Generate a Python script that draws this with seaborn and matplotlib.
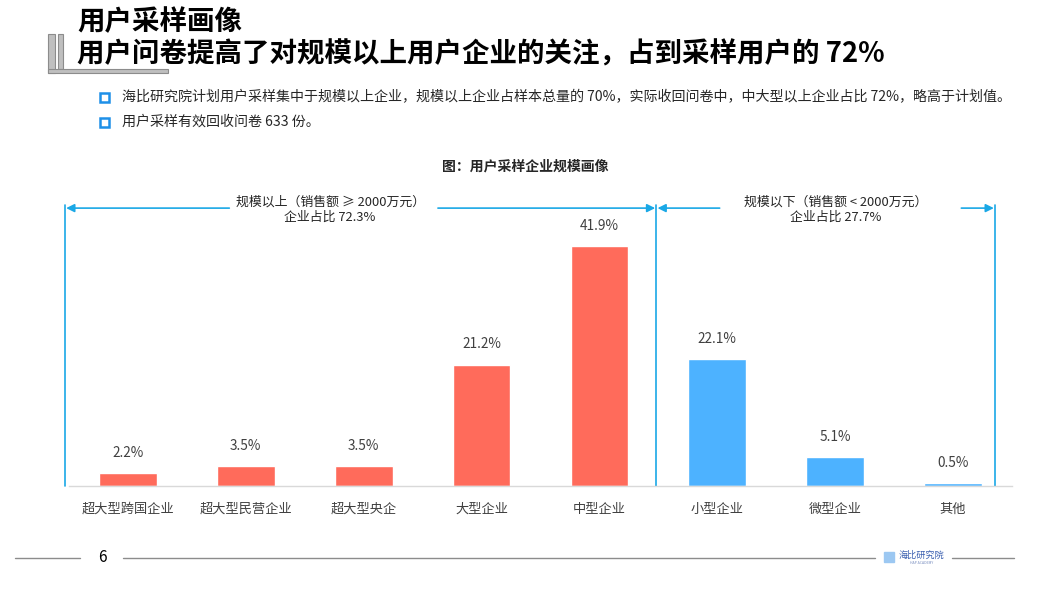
import matplotlib
matplotlib.use("Agg")
import matplotlib.pyplot as plt
import seaborn as sns
import pandas as pd
from matplotlib.lines import Line2D
from matplotlib.patches import Rectangle

sns.set_theme(style="white")
plt.rcParams['font.family'] = ['Noto Sans CJK SC', 'DejaVu Sans']

categories = ["超大型跨国企业", "超大型民营企业", "超大型央企", "大型企业", "中型企业", "小型企业", "微型企业", "其他"]
values = [2.2, 3.5, 3.5, 21.2, 41.9, 22.1, 5.1, 0.5]
groups = ["上", "上", "上", "上", "上", "下", "下", "下"]
group_labels = ["规模以上（销售额 ≥ 2000万元）\n企业占比 72.3%", "规模以下（销售额 < 2000万元）\n企业占比 27.7%"]

title1 = "用户采样画像"
title2 = "用户问卷提高了对规模以上用户企业的关注，占到采样用户的 72%"
bullets = ["海比研究院计划用户采样集中于规模以上企业，规模以上企业占样本总量的 70%，实际收回问卷中，中大型以上企业占比 72%，略高于计划值。",
           "用户采样有效回收问卷 633 份。"]
chart_title = "图：用户采样企业规模画像"
page_no = "6"

RED = "#FF6B5B"
BLUE = "#4DB2FF"
LINE_BLUE = "#1AA8E6"
TXT = "#404040"

df = pd.DataFrame({"cat": categories, "val": values, "grp": groups})

W, H = 1050, 590
fig = plt.figure(figsize=(W / 100, H / 100), dpi=100)
fig.patch.set_facecolor("white")

def px(x, y):
    return x / W, 1 - y / H

# axes placement
ax_l, ax_r, ax_t, ax_b = 69, 1012, 190, 486
ax = fig.add_axes([ax_l / W, 1 - ax_b / H, (ax_r - ax_l) / W, (ax_b - ax_t) / H])
sns.barplot(data=df, x="cat", y="val", hue="grp", palette={"上": RED, "下": BLUE},
            dodge=False, width=0.49, legend=False, ax=ax, saturation=1)
ymax = 51.66
ax.set_ylim(0, ymax)
ax.set_xlim(-0.5, len(categories) - 0.5)
for s in ["top", "right", "left"]:
    ax.spines[s].set_visible(False)
ax.spines["bottom"].set_color("#D9D9D9")
ax.spines["bottom"].set_linewidth(1.0)
ax.set_yticks([])
ax.set_xlabel("")
ax.set_ylabel("")
ax.tick_params(axis="x", length=0, pad=12, labelsize=9.5, labelcolor=TXT)

for i, v in enumerate(values):
    ax.text(i, v + 2.3, f"{v}%", ha="center", va="bottom", fontsize=9.8, color=TXT)

# bracket annotations
bounds = [-0.534, 4.483, 7.356]
y_arrow = 48.5
y_top = 49.1
for b in bounds:
    ax.plot([b, b], [0, y_top], color=LINE_BLUE, lw=1.2, clip_on=False)
gap = [(-0.534, 0.86, 2.63, 4.483), (4.483, 5.02, 7.07, 7.356)]
for (l, gl, gr, r) in gap:
    ax.annotate("", xy=(l + 0.01, y_arrow), xytext=(gl, y_arrow),
                arrowprops=dict(arrowstyle="-|>", color=LINE_BLUE, lw=1.2, mutation_scale=12, shrinkA=0, shrinkB=0),
                annotation_clip=False)
    ax.annotate("", xy=(r - 0.01, y_arrow), xytext=(gr, y_arrow),
                arrowprops=dict(arrowstyle="-|>", color=LINE_BLUE, lw=1.2, mutation_scale=12, shrinkA=0, shrinkB=0),
                annotation_clip=False)
ax.text((gap[0][1] + gap[0][2]) / 2 - 0.03, y_arrow - 0.25, group_labels[0], ha="center", va="center",
        fontsize=9.3, color="#262626", linespacing=1.2)
ax.text((gap[1][1] + gap[1][2]) / 2 - 0.04, y_arrow - 0.25, group_labels[1], ha="center", va="center",
        fontsize=9.3, color="#262626", linespacing=1.2)

# header
fig.text(*px(77, 22), title1, fontsize=19.8, fontweight="bold", color="black", va="center", ha="left")
fig.text(*px(77, 54), title2, fontsize=19.8, fontweight="bold", color="black", va="center", ha="left")
fig.add_artist(Rectangle(px(48, 73), 7 / W, 39 / H, facecolor="#BFBFBF", edgecolor="#8C8C8C", lw=0.8,
                         transform=fig.transFigure))
fig.add_artist(Rectangle(px(58, 69), 5 / W, 35 / H, facecolor="#BFBFBF", edgecolor="#8C8C8C", lw=0.8,
                         transform=fig.transFigure))
fig.add_artist(Rectangle(px(48, 73), 120 / W, 4 / H, facecolor="#BFBFBF", edgecolor="#8C8C8C", lw=0.8,
                         transform=fig.transFigure))

# bullets
for k, (t, yy) in enumerate(zip(bullets, [97, 122])):
    fig.add_artist(Rectangle(px(100, yy + 5), 9 / W, 9 / H, fill=False, edgecolor="#1E90E8", lw=1.8,
                             transform=fig.transFigure))
    fig.text(*px(122, yy), t, fontsize=10.1, color="#262626", va="center", ha="left")

fig.text(*px(525, 166), chart_title, fontsize=10, fontweight="bold", color="#262626", va="center", ha="center")

# footer
fc = "#8C8C8C"
fy = 1 - 558 / H
fig.add_artist(Line2D([15 / W, 80 / W], [fy, fy], color=fc, lw=1, transform=fig.transFigure))
fig.text(*px(102, 558), page_no, fontsize=11, color="black", va="center", ha="center")
fig.add_artist(Line2D([123 / W, 875 / W], [fy, fy], color=fc, lw=1, transform=fig.transFigure))
fig.add_artist(Rectangle(px(884, 562), 10 / W, 10 / H, color="#9CC8F2", transform=fig.transFigure))
fig.text(*px(899, 555), "海比研究院", fontsize=6.6, color="#3A5FB0", va="center", ha="left")
fig.text(*px(922, 563), "HAP ACADEMY", fontsize=2.5, color="#7A8FC0", va="center", ha="center")
fig.add_artist(Line2D([952 / W, 1014 / W], [fy, fy], color=fc, lw=1, transform=fig.transFigure))

fig.savefig("out.png", dpi=100, facecolor="white")
